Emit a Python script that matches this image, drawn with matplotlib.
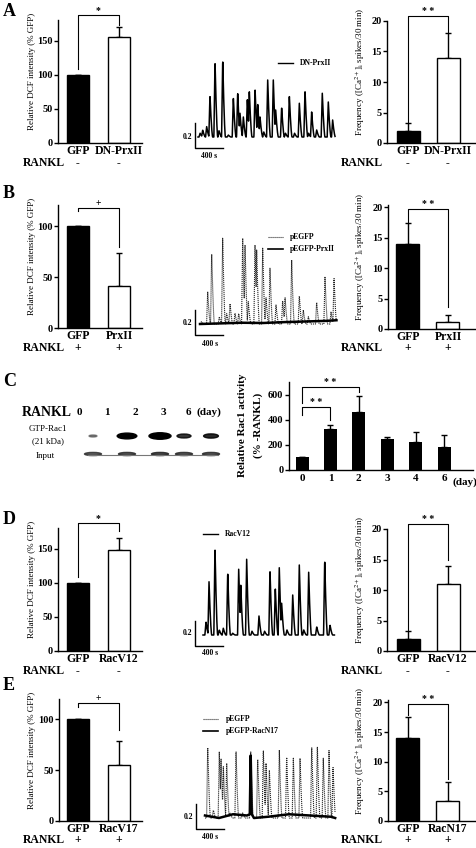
import numpy as np
import matplotlib
matplotlib.use('Agg')
import matplotlib.pyplot as plt
from matplotlib.lines import Line2D
from matplotlib.patches import Ellipse

# ---------------- data ----------------
a_dcf_cats = ['GFP', 'DN-PrxII']
a_dcf_vals = [100, 155]
a_dcf_err = [0, 15]
a_freq_cats = ['GFP', 'DN-PrxII']
a_freq_vals = [2, 14]
a_freq_err = [1.2, 4.1]
a_rankl = ['-', '-']

b_dcf_cats = ['GFP', 'PrxII']
b_dcf_vals = [100, 41]
b_dcf_err = [0.5, 33]
b_freq_cats = ['GFP', 'PrxII']
b_freq_vals = [14, 1.1]
b_freq_err = [3.4, 1.2]
b_rankl = ['+', '+']

c_days = ['0', '1', '2', '3', '4', '6']
c_vals = [100, 330, 460, 245, 225, 180]
c_err = [0, 30, 130, 20, 75, 95]
c_blot_lanes = ['0', '1', '2', '3', '6']
c_gtp_intensity = [0.12, 0.85, 1.0, 0.5, 0.55]
c_input_intensity = [0.75, 0.8, 0.85, 0.8, 0.8]

d_dcf_cats = ['GFP', 'RacV12']
d_dcf_vals = [100, 148]
d_dcf_err = [0, 18]
d_freq_cats = ['GFP', 'RacV12']
d_freq_vals = [2, 11]
d_freq_err = [1.3, 3.0]
d_rankl = ['-', '-']

e_dcf_cats = ['GFP', 'RacV17']
e_dcf_vals = [100, 55]
e_dcf_err = [0, 24]
e_freq_cats = ['GFP', 'RacN17']
e_freq_vals = [14, 3.3]
e_freq_err = [3.5, 3.2]
e_rankl = ['+', '+']

# Ca2+ traces: spike times (s) and amplitudes (ratio units)
a_trace_t = [30, 67, 124, 171, 243, 300, 353, 433, 505, 567, 600, 648, 705, 733, 815, 853,
             886, 940, 996, 1076, 1110, 1195, 1250, 1305, 1380, 1448, 1529, 1580, 1624,
             1696, 1776, 1862, 1924]
a_trace_a = [0.03, 0.056, 0.083, 0.336, 0.61, 0.05, 0.624, 0.016, 0.32, 0.36, 0.19, 0.16,
             0.31, 0.376, 0.39, 0.27, 0.16, 0.04, 0.456, 0.456, 0.216, 0.24, 0.03, 0.336,
             0.03, 0.27, 0.376, 0.03, 0.2, 0.056, 0.35, 0.28, 0.136]
a_trace_end = 1960

b_ctrl_t = [20, 110, 167, 276, 324, 381, 429, 500, 553, 610, 643, 690, 786, 810, 896, 943,
            1000, 1086, 1181, 1215, 1310, 1419, 1476, 1548, 1667, 1786, 1872, 1915]
b_ctrl_a = [0.018, 0.258, 0.578, 0.058, 0.686, 0.086, 0.168, 0.086, 0.086, 0.686, 0.658,
            0.178, 0.632, 0.592, 0.606, 0.218, 0.446, 0.152, 0.192, 0.218, 0.512, 0.232,
            0.112, 0.058, 0.178, 0.378, 0.098, 0.378]
b_prx_t = [0, 300, 600, 900, 1200, 1500, 1800, 1950]
b_prx_a = [0.0, 0.005, 0.01, 0.008, 0.015, 0.02, 0.025, 0.03]
b_trace_end = 1950

d_trace_t = [43, 86, 171, 233, 290, 353, 424, 510, 539, 624, 700, 800, 880, 957, 1033,
             1090, 1124, 1200, 1282, 1376, 1440, 1510, 1625, 1739, 1815]
d_trace_a = [0.106, 0.426, 0.706, 0.04, 0.054, 0.506, 0.014, 0.526, 0.414, 0.606, 0.03,
             0.152, 0.03, 0.526, 0.382, 0.538, 0.254, 0.04, 0.32, 0.56, 0.04, 0.502, 0.066,
             0.606, 0.08]
d_trace_end = 1880

e_ctrl_t = [39, 119, 204, 229, 262, 310, 357, 443, 538, 653, 753, 833, 872, 919, 1062,
            1167, 1262, 1358, 1525, 1605, 1690, 1772, 1829]
e_ctrl_a = [0.584, 0.064, 0.53, 0.49, 0.41, 0.438, 0.04, 0.55, 0.04, 0.55, 0.486, 0.558,
            0.438, 0.398, 0.544, 0.504, 0.478, 0.478, 0.584, 0.592, 0.478, 0.54, 0.42]
e_n17_t = [0, 200, 400, 600, 640, 653, 668, 700, 900, 1200, 1500, 1800, 1860]
e_n17_a = [0.02, 0.0, 0.03, 0.02, 0.03, 0.5, 0.03, 0.0, 0.01, 0.03, 0.02, 0.01, 0.0]
e_trace_end = 1860

# ---------------- setup ----------------
W, H = 477, 848
plt.rcParams['font.family'] = ['Liberation Serif', 'DejaVu Serif']
plt.rcParams['mathtext.fontset'] = 'stix'
fig = plt.figure(figsize=(W / 100, H / 100), dpi=100)


def px_rect(l, t, r, b):
    return [l / W, 1 - b / H, (r - l) / W, (b - t) / H]


def ftext(x, y, s, **kw):
    fig.text(x / W, 1 - y / H, s, **kw)


def fline(x1, x2, y, **kw):
    fig.add_artist(Line2D([x1 / W, x2 / W], [1 - y / H, 1 - y / H],
                          transform=fig.transFigure, **kw))


def bar_panel(l, t, r, b, centers, width, cats, vals, errs, ylim, yticks,
              ylabel, ylab_x, rankl, bracket, mark, rank_y):
    ax = fig.add_axes(px_rect(l, t, r, b))
    unit = centers[1] - centers[0]
    xl = -(centers[0] - l) / unit
    ax.set_xlim(xl, xl + (r - l) / unit)
    ax.set_ylim(*ylim)
    x = np.arange(len(vals))
    cols = ['black', 'white']
    ax.bar(x, vals, width=width / unit, color=cols, edgecolor='black', linewidth=1.0, zorder=2)
    ax.errorbar(x, vals, yerr=[np.zeros(len(vals)), errs], fmt='none', ecolor='black',
                elinewidth=1.0, capsize=2.2, capthick=1.0, zorder=1)
    for s in ['top', 'right']:
        ax.spines[s].set_visible(False)
    for s in ['left', 'bottom']:
        ax.spines[s].set_linewidth(1.0)
    ax.set_yticks(yticks)
    ax.set_yticklabels([str(v) for v in yticks], fontsize=7.5, fontweight='bold')
    ax.tick_params(axis='y', direction='out', length=3, width=1.0, pad=1)
    ax.set_xticks(x)
    ax.set_xticklabels(cats, fontsize=8.5, fontweight='bold')
    ax.tick_params(axis='x', length=0, pad=1.5)
    yb, leg1, leg2 = bracket
    ax.plot([0, 0, 1, 1], [leg1, yb, yb, leg2], color='black', lw=0.8, clip_on=False)
    ax.text(0.5, yb, mark, ha='center', va='bottom', fontsize=7, fontweight='bold')
    ftext(ylab_x, (t + b) / 2 - 10, ylabel, rotation=90, ha='center', va='center', fontsize=6.5)
    for xi, sgn in zip(centers, rankl):
        ftext(xi, rank_y, sgn, ha='center', va='center', fontsize=8.5, fontweight='bold')
    return ax


def spike_series(ts, amps, t_end, rise=16.0, decay=38.0):
    t = np.arange(0, t_end, 2.0)
    y = np.zeros_like(t)
    for tp, a in zip(ts, amps):
        up = np.where((t >= tp - rise) & (t <= tp), a * (t - (tp - rise)) / rise, 0)
        dn = np.where((t > tp) & (t <= tp + decay), a * (1 - (t - tp) / decay) ** 1.5, 0)
        y = np.maximum(y, np.maximum(up, dn))
    return t, y


SPP = 14.29   # seconds per pixel
RPP = 0.008   # ratio per pixel


def trace_axes(l, t, r, b, x0, y0, corner, lab_y, s_x, s_y):
    ax = fig.add_axes(px_rect(l, t, r, b))
    ax.set_xlim((l - x0) * SPP, (r - x0) * SPP)
    ax.set_ylim((y0 - b) * RPP, (y0 - t) * RPP)
    ax.axis('off')
    cx = (corner[0] - x0) * SPP
    cy = (y0 - corner[1]) * RPP
    ax.plot([cx, cx, cx + 400], [cy + 0.2, cy, cy], color='black', lw=1.0, clip_on=False)
    ftext(corner[0] - 3, lab_y, '0.2', ha='right', va='center', fontsize=5.5, fontweight='bold')
    ftext(s_x, s_y, '400 s', ha='center', va='center', fontsize=5.5, fontweight='bold')
    return ax


# ---------------- panel letters ----------------
for letter, y in [('A', 11), ('B', 194), ('C', 381), ('D', 519), ('E', 686)]:
    ftext(3, y, letter, ha='left', va='center', fontsize=13, fontweight='bold')

dcf_label = 'Relative DCF intensity (% GFP)'
freq_label = r'Frequency ([Ca$^{2+}$]$_{\rm i}$ spikes/30 min)'

LC = [78, 119]
RC = [408, 448]

# ---------------- A ----------------
bar_panel(58, 20, 142, 143, LC, 22, a_dcf_cats, a_dcf_vals, a_dcf_err, (0, 180),
          [0, 50, 100, 150], dcf_label, 32, a_rankl, (188, 109, 173), '*', 163)
bar_panel(387, 21, 475, 143, RC, 23, a_freq_cats, a_freq_vals, a_freq_err, (0, 20),
          [0, 5, 10, 15, 20], freq_label, 360, a_rankl, (20.9, 3.3, 18.2), '* *', 163)
ax = trace_axes(190, 50, 340, 152, 198, 137, (195, 148), 137, 209, 156)
t, y = spike_series(a_trace_t, a_trace_a, a_trace_end)
ax.plot(t, y, color='black', lw=1.1)
fline(278, 293, 63, color='black', lw=1.0)
ftext(300, 63, 'DN-PrxII', ha='left', va='center', fontsize=5.5, fontweight='bold')

# ---------------- B ----------------
bar_panel(58, 205, 142, 328, LC, 22, b_dcf_cats, b_dcf_vals, b_dcf_err, (0, 121),
          [0, 50, 100], dcf_label, 32, b_rankl, (118, 114.7, 79.7), '+', 348)
bar_panel(388, 205, 475, 329, RC, 23, b_freq_cats, b_freq_vals, b_freq_err, (0, 20.4),
          [0, 5, 10, 15, 20], freq_label, 360, b_rankl, (19.8, 17.5, 3.7), '* *', 348)
ax = trace_axes(190, 225, 340, 340, 200, 324, (195, 335), 323, 210, 344)
t, y = spike_series(b_ctrl_t, b_ctrl_a, b_trace_end)
ax.plot(t, y, color='#222222', lw=0.8, linestyle=(0, (1, 0.8)))
ax.plot(b_prx_t, b_prx_a, color='black', lw=1.8)
fline(268, 283, 237, color='#333333', lw=0.8, linestyle=(0, (1, 0.8)))
ftext(290, 237, 'pEGFP', ha='left', va='center', fontsize=5.5, fontweight='bold')
fline(268, 283, 249, color='black', lw=1.2)
ftext(290, 249, 'pEGFP-PrxII', ha='left', va='center', fontsize=5.5, fontweight='bold')

# ---------------- C blot ----------------
ftext(47, 412, 'RANKL', ha='center', va='center', fontsize=10, fontweight='bold')
lane_lab_x = [79, 107, 135, 163, 188]
for lx, lab in zip(lane_lab_x, c_blot_lanes):
    ftext(lx, 412, lab, ha='center', va='center', fontsize=8, fontweight='bold')
ftext(197, 412, '(day)', ha='left', va='center', fontsize=8, fontweight='bold')
ftext(48, 429, 'GTP-Rac1', ha='center', va='center', fontsize=6.5)
ftext(48, 441, '(21 kDa)', ha='center', va='center', fontsize=6.5)
ftext(45, 456, 'Input', ha='center', va='center', fontsize=6.5)

bax = fig.add_axes(px_rect(80, 425, 230, 465))
bax.set_xlim(80, 230)
bax.set_ylim(465, 425)
bax.axis('off')
band_x = [93, 127, 160, 184, 211]
for bx, g in zip(band_x, c_gtp_intensity):
    bax.add_patch(Ellipse((bx, 436), 6 + 16 * g, 1.5 + 5 * g, color='black', alpha=min(1, 0.3 + g)))
bax.plot([88, 218], [454.5, 454.5], color='#777777', lw=0.8)
for bx, g in zip(band_x, c_input_intensity):
    bax.add_patch(Ellipse((bx, 454), 17, 3.2, color='#222222', alpha=g))

# ---------------- C bar chart ----------------
cax = fig.add_axes(px_rect(289, 382, 473, 470))
cx = np.arange(len(c_vals))
unit = 28.4
xl = -(302 - 289) / unit
cax.set_xlim(xl, xl + (473 - 289) / unit)
cax.set_ylim(0, 700)
cax.bar(cx, c_vals, width=13 / unit, color='black', zorder=2)
cax.errorbar(cx, c_vals, yerr=[np.zeros(len(c_vals)), c_err], fmt='none', ecolor='black',
             elinewidth=1.0, capsize=2.2, capthick=1.0, zorder=1)
for s in ['top', 'right']:
    cax.spines[s].set_visible(False)
for s in ['left', 'bottom']:
    cax.spines[s].set_linewidth(1.0)
cax.set_yticks([0, 200, 400, 600])
cax.set_yticklabels(['0', '200', '400', '600'], fontsize=7.5, fontweight='bold')
cax.tick_params(axis='y', direction='out', length=3, width=1.0, pad=1)
cax.set_xticks(cx)
cax.set_xticklabels(c_days, fontsize=8, fontweight='bold')
cax.tick_params(axis='x', length=0, pad=3)
ftext(453, 482, '(day)', ha='left', va='center', fontsize=8, fontweight='bold')
cax.plot([0, 0, 1, 1], [440, 504, 504, 400], color='black', lw=0.8, clip_on=False)
cax.text(0.5, 504, '* *', ha='center', va='bottom', fontsize=7, fontweight='bold')
cax.plot([0, 0, 2, 2], [536, 664, 664, 624], color='black', lw=0.8, clip_on=False)
cax.text(1.0, 664, '* *', ha='center', va='bottom', fontsize=7, fontweight='bold')
ftext(243, 425, 'Relative Rac1 activity', rotation=90, ha='center', va='center',
      fontsize=8, fontweight='bold')
ftext(258, 425, '(% -RANKL)', rotation=90, ha='center', va='center', fontsize=8,
      fontweight='bold')

# ---------------- D ----------------
bar_panel(58, 528, 142, 651, LC, 22, d_dcf_cats, d_dcf_vals, d_dcf_err, (0, 180),
          [0, 50, 100, 150], dcf_label, 32, d_rankl, (188, 109, 175), '*', 671)
bar_panel(387, 529, 475, 651, RC, 23, d_freq_cats, d_freq_vals, d_freq_err, (0, 20),
          [0, 5, 10, 15, 20], freq_label, 360, d_rankl, (20.9, 3.5, 15), '* *', 671)
ax = trace_axes(190, 535, 340, 655, 203, 635, (195, 646), 633, 210, 653)
t, y = spike_series(d_trace_t, d_trace_a, d_trace_end)
ax.plot(t, y, color='black', lw=1.1)
fline(203, 218, 534, color='black', lw=1.0)
ftext(225, 534, 'RacV12', ha='left', va='center', fontsize=5.5, fontweight='bold')

# ---------------- E ----------------
bar_panel(59, 699, 142, 821, LC, 22, e_dcf_cats, e_dcf_vals, e_dcf_err, (0, 120),
          [0, 50, 100], dcf_label, 32, e_rankl, (115.7, 111.7, 90), '+', 840)
bar_panel(388, 700, 475, 821, RC, 23, e_freq_cats, e_freq_vals, e_freq_err, (0, 20.4),
          [0, 5, 10, 15, 20], freq_label, 360, e_rankl, (19.8, 17.8, 7), '* *', 840)
ax = trace_axes(190, 735, 340, 845, 205, 818, (196, 829), 817, 210, 837)
t, y = spike_series(e_ctrl_t, e_ctrl_a, e_trace_end)
ax.plot(t, y, color='#222222', lw=0.8, linestyle=(0, (1, 0.8)))
ax.plot(e_n17_t, e_n17_a, color='black', lw=1.8)
fline(203, 218, 719, color='#333333', lw=0.8, linestyle=(0, (1, 0.8)))
ftext(226, 719, 'pEGFP', ha='left', va='center', fontsize=5.5, fontweight='bold')
fline(203, 218, 731, color='black', lw=1.2)
ftext(226, 731, 'pEGFP-RacN17', ha='left', va='center', fontsize=5.5, fontweight='bold')

# RANKL row labels
for y in [163, 348, 671, 840]:
    ftext(44, y, 'RANKL', ha='center', va='center', fontsize=8.5, fontweight='bold')
    ftext(362, y, 'RANKL', ha='center', va='center', fontsize=8.5, fontweight='bold')

fig.savefig('out.png', dpi=100)
